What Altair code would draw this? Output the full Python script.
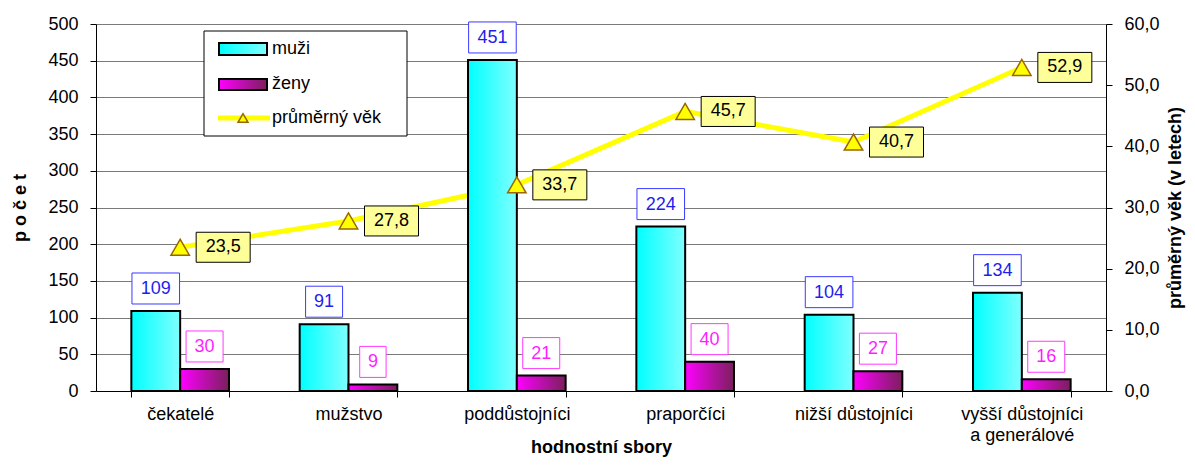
import altair as alt
import pandas as pd

# ---- data ----
categories = ["čekatelé", "mužstvo", "poddůstojníci", "praporčíci",
              "nižší důstojníci", "vyšší důstojníci a generálové"]
series_names = ["muži", "ženy"]
muzi = [109, 91, 451, 224, 104, 134]
zeny = [30, 9, 21, 40, 27, 16]
prumerny_vek = [23.5, 27.8, 33.7, 45.7, 40.7, 52.9]
left_ticks = [0, 50, 100, 150, 200, 250, 300, 350, 400, 450, 500]
right_ticks = [0, 10, 20, 30, 40, 50, 60]
age_series = "průměrný věk"

FONT = "Liberation Sans"
FS = 18

counts = pd.DataFrame({
    "kat": categories * 2,
    "serie": [series_names[0]] * len(categories) + [series_names[1]] * len(categories),
    "pocet": muzi + zeny,
})


def box_path(n):
    w = 16 + 10.5 * len(str(n))
    return f"M{-w/2:.1f},-38H{w/2:.1f}V-7H{-w/2:.1f}Z"


counts["box"] = counts["pocet"].map(box_path)

ages = pd.DataFrame({"kat": categories, "vek": prumerny_vek})
ages["label"] = ages["vek"].map(lambda v: f"{v:.1f}".replace(".", ","))

one = pd.DataFrame({"a": [0]})

# ---- shared encodings ----
x_enc = alt.X(
    "kat:N", sort=categories,
    scale=alt.Scale(paddingInner=0.42, paddingOuter=0.21),
    axis=alt.Axis(
        title="hodnostní sbory", titleFontWeight="bold", titleFontSize=FS,
        titleColor="black", titleY=61, titleBaseline="alphabetic",
        labelFontSize=FS, labelColor="black", labelAngle=0, labelPadding=8,
        labelLineHeight=21, labelLimit=400,
        labelExpr="datum.label == 'vyšší důstojníci a generálové' ? ['vyšší důstojníci', 'a generálové'] : datum.label",
        tickBand="extent", tickSize=6, tickColor="black", domainColor="black",
        domainWidth=1, grid=False,
    ),
)
xo_enc = alt.XOffset("serie:N", sort=series_names,
                     scale=alt.Scale(domain=series_names, paddingInner=0, paddingOuter=0))

y_left_axis = alt.Axis(
    orient="left", title="p o č e t", titleFontWeight="bold", titleFontSize=FS,
    titleColor="black", titlePadding=18,
    values=left_ticks, labelFontSize=FS, labelColor="black", labelPadding=12,
    tickSize=6, tickColor="black", domainColor="black",
    grid=True, gridColor="#7a7a7a", gridWidth=1,
)
y_right_axis = alt.Axis(
    orient="right", title="průměrný věk (v letech)", titleFontWeight="bold",
    titleFontSize=FS, titleColor="black", titleAngle=270, titleBaseline="top",
    titlePadding=7,
    values=right_ticks, labelFontSize=FS, labelColor="black", labelPadding=12,
    labelExpr="replace(format(datum.value, '.1f'), '.', ',')",
    tickSize=6, tickColor="black", domainColor="black", grid=False,
)
y_left_scale = alt.Scale(domain=[0, 500], nice=False)
y_right_scale = alt.Scale(domain=[0, 60], nice=False)

grad_cyan = alt.Gradient(gradient="linear", x1=0, x2=1, y1=0, y2=0, stops=[
    alt.GradientStop(color="#00FFFF", offset=0),
    alt.GradientStop(color="#80FFFF", offset=1)])
grad_mag = alt.Gradient(gradient="linear", x1=0, x2=1, y1=0, y2=0, stops=[
    alt.GradientStop(color="#FF00FF", offset=0),
    alt.GradientStop(color="#7A1F5C", offset=1)])

# ---- layers ----
line = alt.Chart(ages).mark_line(color="#FFFF00", strokeWidth=5).encode(
    x=x_enc, y=alt.Y("vek:Q", scale=y_right_scale, axis=y_right_axis))

bars_m = alt.Chart(counts).transform_filter(alt.datum.serie == series_names[0]).mark_bar(
    color=grad_cyan, stroke="black", strokeWidth=2).encode(
    x=x_enc, xOffset=xo_enc, y=alt.Y("pocet:Q", scale=y_left_scale, axis=y_left_axis))

bars_z = alt.Chart(counts).transform_filter(alt.datum.serie == series_names[1]).mark_bar(
    color=grad_mag, stroke="black", strokeWidth=2).encode(
    x=x_enc, xOffset=xo_enc, y=alt.Y("pocet:Q", scale=y_left_scale, axis=None))

tri = alt.Chart(ages).mark_point(
    shape="triangle-up", filled=True, fill="#FFFF00", stroke="#996600",
    strokeWidth=1.5, size=340, opacity=1).encode(
    x=x_enc, y=alt.Y("vek:Q", scale=y_right_scale, axis=None))

age_box = alt.Chart(ages).mark_point(
    shape="M16,-15H70V15H16Z", size=4, filled=True, fill="#FFFF99",
    stroke="black", strokeWidth=1, opacity=1).encode(
    x=x_enc, y=alt.Y("vek:Q", scale=y_right_scale, axis=None))

age_text = alt.Chart(ages).mark_text(
    dx=43, fontSize=FS, color="black", baseline="middle", align="center").encode(
    x=x_enc, y=alt.Y("vek:Q", scale=y_right_scale, axis=None), text="label:N")

count_box = alt.Chart(counts).mark_point(
    filled=True, fill="white", size=4, opacity=1, strokeWidth=1).encode(
    x=x_enc, xOffset=xo_enc,
    y=alt.Y("pocet:Q", scale=y_left_scale, axis=None),
    shape=alt.Shape("box:N", scale=None),
    stroke=alt.Stroke("serie:N", scale=alt.Scale(domain=series_names,
                                                 range=["#3A3AFF", "#FF3AFF"]), legend=None))

count_text = alt.Chart(counts).mark_text(
    dy=-22, fontSize=FS, baseline="middle", align="center").encode(
    x=x_enc, xOffset=xo_enc,
    y=alt.Y("pocet:Q", scale=y_left_scale, axis=None),
    text="pocet:Q",
    color=alt.Color("serie:N", scale=alt.Scale(domain=series_names,
                                               range=["#1E1EEE", "#FF1EFF"]), legend=None))

# ---- legend (decoration) ----
leg_box = alt.Chart(one).mark_rect(fill="white", stroke="black", strokeWidth=1).encode(
    x=alt.value(108), x2=alt.value(311), y=alt.value(7), y2=alt.value(112))
leg_m = alt.Chart(one).mark_rect(color=grad_cyan, stroke="black", strokeWidth=2).encode(
    x=alt.value(123), x2=alt.value(171), y=alt.value(19), y2=alt.value(31))
leg_z = alt.Chart(one).mark_rect(color=grad_mag, stroke="black", strokeWidth=2).encode(
    x=alt.value(123), x2=alt.value(171), y=alt.value(55), y2=alt.value(66))
leg_line = alt.Chart(one).mark_rule(color="#FFFF00", strokeWidth=5).encode(
    x=alt.value(122), x2=alt.value(174), y=alt.value(94))
leg_tri = alt.Chart(one).mark_point(
    shape="triangle-up", filled=True, fill="#FFFF00", stroke="#996600",
    strokeWidth=1.5, size=100, opacity=1).encode(x=alt.value(147), y=alt.value(94))
leg_t1 = alt.Chart(one).mark_text(fontSize=FS, align="left", baseline="middle", color="black").encode(
    x=alt.value(176), y=alt.value(25), text=alt.value(series_names[0]))
leg_t2 = alt.Chart(one).mark_text(fontSize=FS, align="left", baseline="middle", color="black").encode(
    x=alt.value(176), y=alt.value(60), text=alt.value(series_names[1]))
leg_t3 = alt.Chart(one).mark_text(fontSize=FS, align="left", baseline="middle", color="black").encode(
    x=alt.value(176), y=alt.value(94), text=alt.value(age_series))

chart = alt.layer(
    line, bars_m, bars_z, tri, age_box, age_text, count_box, count_text,
    leg_box, leg_m, leg_z, leg_line, leg_tri, leg_t1, leg_t2, leg_t3,
).resolve_scale(y="independent").properties(
    width=1010, height=367,
    autosize=alt.AutoSizeParams(type="none"),
    padding={"left": 88, "top": 16, "right": 81, "bottom": 68},
    background="white",
).configure(font=FONT).configure_view(stroke=None)

chart.save("out.html", embed_options={"renderer": "svg", "actions": False})
